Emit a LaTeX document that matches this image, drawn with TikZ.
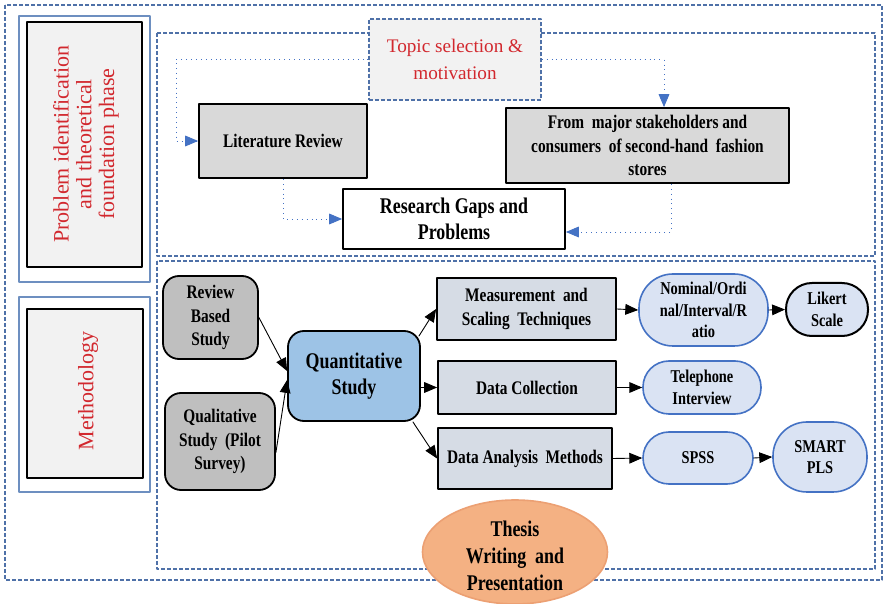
\documentclass[tikz,border=0pt]{standalone}
\usepackage{fontspec}
\setmainfont{Liberation Serif}
\newfontfamily\narrowserif{Liberation Serif}[FakeStretch=0.8]
\usepackage{tikz}
\usetikzlibrary{arrows,shapes.geometric}

\definecolor{frameblue}{RGB}{79,113,168}
\definecolor{panelblue}{RGB}{109,143,192}
\definecolor{titlered}{RGB}{210,40,46}
\definecolor{boxgray}{RGB}{217,217,217}
\definecolor{panelgray}{RGB}{242,242,242}
\definecolor{stepgray}{RGB}{191,191,191}
\definecolor{quantblue}{RGB}{157,195,230}
\definecolor{slate}{RGB}{214,220,229}
\definecolor{paleblue}{RGB}{218,227,243}
\definecolor{midblue}{RGB}{68,114,196}
\definecolor{peach}{RGB}{244,177,131}
\definecolor{peachline}{RGB}{236,160,115}

\begin{document}
\begin{tikzpicture}[line cap=round,line join=round,>=triangle 45,x=0.5pt,y=-0.5pt,
  region/.style={draw=frameblue,line width=0.7pt,line cap=butt,dash pattern=on 2pt off 1pt},
  panel/.style={draw=panelblue,line width=0.8pt,inner sep=0pt},
  panelin/.style={draw=black,fill=panelgray,line width=0.9pt,inner sep=0pt},
  phase/.style={text=titlered,rotate=90,align=center,font=\fontsize{11}{11.4}\selectfont},
  bold/.style={font=\narrowserif\bfseries\fontsize{9.6}{11.7}\selectfont},
  bigbold/.style={font=\narrowserif\bfseries\fontsize{11.2}{13.3}\selectfont},
  pilltext/.style={font=\narrowserif\bfseries\fontsize{9}{10.8}\selectfont},
  stepbox/.style={draw=black,line width=0.9pt,align=center,inner sep=1pt},
  roundbox/.style={stepbox,rounded corners=8pt},
  pill/.style={draw=midblue,fill=paleblue,line width=0.8pt,align=center,inner sep=1pt,pilltext},
  dotarrow/.style={->,draw=midblue,dotted,line width=0.45pt,line cap=butt},
  link/.style={->,draw=black,line width=0.45pt}
]
\useasboundingbox (0,0) rectangle (885,604);

% frames
\draw[region] (5,5) rectangle (882,580);
\draw[region] (157,33) rectangle (875,256);
\draw[region] (157,261) rectangle (875,569);

% left phase labels
\node[panel,minimum width=65.5pt,minimum height=133pt] (panelA) at (84.5,149) {};
\node[panelin,minimum width=57.5pt,minimum height=122.5pt] (panelAin) at (84.5,144.5) {};
\node[phase] (phaseA) at (86,144) {Problem identification\\and theoretical\\foundation phase};
\node[panel,minimum width=65.5pt,minimum height=97.5pt] (panelB) at (84.5,394.5) {};
\node[panelin,minimum width=58pt,minimum height=84.5pt] (panelBin) at (85,393.5) {};
\node[phase] (phaseB) at (88,391) {Methodology};

% problem identification
\node[region,fill=panelgray,text=titlered,align=center,minimum width=86pt,minimum height=40.5pt,
  font=\fontsize{9.6}{13.3}\selectfont] (topic) at (455,59.5) {Topic selection \&\\motivation};
\node[stepbox,fill=boxgray,bold,minimum width=84pt,minimum height=37pt] (litrev) at (283,141) {Literature Review};
\node[stepbox,fill=white,bigbold,minimum width=111pt,minimum height=30pt] (gaps) at (454,219) {Research Gaps and\\Problems};
\node[stepbox,fill=boxgray,bold,minimum width=141.5pt,minimum height=37.5pt] (stake) at (647.5,145.5)
  {From~ major stakeholders and\\consumers~ of second-hand~ fashion\\stores};

\coordinate (bendA) at (176,100);
\draw[dotarrow] (topic.west) -| (bendA) |- (litrev.west);
\draw[dotarrow] (topic.east) -| ([xshift=8.25pt]stake.north);
\draw[dotarrow] (litrev.south) |- (gaps.west);
\draw[dotarrow] ([xshift=11.75pt]stake.south) |- ([yshift=-6.5pt]gaps.east);

% methodology
\node[roundbox,fill=stepgray,bold,minimum width=47.5pt,minimum height=41.5pt] (review) at (210.5,317.5) {Review\\Based\\Study};
\node[roundbox,fill=stepgray,bold,minimum width=55pt,minimum height=48.5pt] (quali) at (220,441.5) {Qualitative\\Study~ (Pilot\\Survey)};
\node[roundbox,fill=quantblue,bigbold,minimum width=66pt,minimum height=45pt] (quant) at (354,376) {Quantitative\\Study};

\node[stepbox,fill=slate,bold,minimum width=89.5pt,minimum height=31pt] (measure) at (526.5,309) {Measurement~ and\\Scaling~ Techniques};
\node[stepbox,fill=slate,bold,minimum width=89pt,minimum height=26.5pt] (collect) at (527,387.5) {Data Collection};
\node[stepbox,fill=slate,bold,minimum width=87pt,minimum height=30.5pt] (analysis) at (525,458.5) {Data Analysis~ Methods};

\node[pill,rounded corners=17pt,minimum width=64.5pt,minimum height=36pt] (scales) at (703.5,310) {Nominal/Ordi\\nal/Interval/R\\atio};
\node[pill,draw=black,line width=1pt,rounded corners=13pt,minimum width=41pt,minimum height=26.5pt] (likert) at (827,309.5) {Likert\\Scale};
\node[pill,rounded corners=13pt,minimum width=59pt,minimum height=26.5pt] (phone) at (702,387.5) {Telephone\\Interview};
\node[pill,rounded corners=13pt,minimum width=55pt,minimum height=26pt] (spss) at (698,458) {SPSS};
\node[pill,rounded corners=17pt,minimum width=47pt,minimum height=35pt] (smart) at (820,457) {SMART\\PLS};

\draw[link] (review.east) -- ([yshift=2.5pt]quant.west);
\draw[link] ([yshift=-5.5pt]quali.east) -- ([yshift=-2pt]quant.west);
\draw[link] ([xshift=-1pt,yshift=-3pt]quant.north east) -- (measure.west);
\draw[link] (quant.east |- collect.west) -- (collect.west);
\draw[link] ([xshift=-4pt]quant.south east) -- (analysis.west);
\draw[link] (measure.east) -- (scales.west);
\draw[link] (scales.east) -- (likert.west);
\draw[link] (collect.east) -- (phone.west);
\draw[link] (analysis.east) -- (spss.west);
\draw[link] (spss.east) -- (smart.west);

% closing step
\node[ellipse,draw=peachline,fill=peach,line width=0.8pt,minimum width=92.5pt,minimum height=52pt,
  inner sep=0pt] (thesis) at (515,552) {};
\node[align=center,inner sep=0pt,font=\narrowserif\bfseries\fontsize{11.2}{13.5}\selectfont]
  (thesistext) at ([yshift=-2pt]thesis.center) {Thesis\\Writing~ and\\Presentation};
\end{tikzpicture}
\end{document}
